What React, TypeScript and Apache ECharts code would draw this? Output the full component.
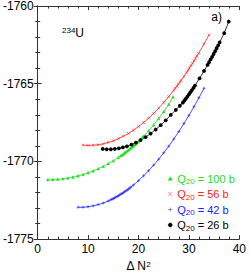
import React, { useEffect, useRef } from 'react';
import * as echarts from 'echarts';

// Q20 = 100 b (green)
const q100: number[][] = [
  [2, -1771.18], [3, -1771.17], [4, -1771.15], [5, -1771.12], [6, -1771.07], [7, -1771.01],
  [8, -1770.93], [9, -1770.84], [10, -1770.73], [11, -1770.61], [12, -1770.47], [13, -1770.32],
  [14, -1770.15], [15, -1769.96], [16, -1769.75], [16.5, -1769.64], [16.75, -1769.58], [17, -1769.52],
  [17.25, -1769.45], [17.5, -1769.39], [17.75, -1769.33], [18, -1769.27], [18.25, -1769.2],
  [18.5, -1769.13], [18.75, -1769.07], [19, -1769.0], [19.25, -1768.92], [19.5, -1768.85],
  [19.75, -1768.77], [20, -1768.7], [20.25, -1768.62], [20.5, -1768.54], [20.75, -1768.46],
  [21, -1768.38], [22, -1768.03], [23, -1767.65], [24, -1767.24], [25, -1766.8], [26, -1766.33],
  [26.85, -1765.85],
];

// Q20 = 56 b (red)
const q56: number[][] = [
  [9, -1768.95], [10, -1768.97], [11, -1768.96], [12, -1768.93], [13, -1768.87], [14, -1768.78],
  [15, -1768.68], [16, -1768.54], [17, -1768.38], [18, -1768.2], [19, -1767.99], [20, -1767.76],
  [21, -1767.5], [22, -1767.22], [23, -1766.91], [24, -1766.57], [25, -1766.21], [26, -1765.83],
  [27, -1765.42], [27.3, -1765.29], [27.6, -1765.16], [27.9, -1765.03], [28.2, -1764.9],
  [28.5, -1764.76], [29, -1764.53], [29.5, -1764.29], [29.8, -1764.14], [30.1, -1763.99],
  [30.4, -1763.84], [30.7, -1763.69], [31, -1763.53], [31.3, -1763.37], [31.6, -1763.21],
  [31.9, -1763.05], [33, -1762.44], [34, -1761.85],
];

// Q20 = 42 b (blue)
const q42: number[][] = [
  [8, -1772.95], [9, -1772.95], [10, -1772.92], [11, -1772.86], [12, -1772.78], [13, -1772.68],
  [14, -1772.55], [14.5, -1772.47], [14.75, -1772.43], [15, -1772.39], [15.25, -1772.35],
  [15.5, -1772.3], [15.75, -1772.26], [16, -1772.21], [16.25, -1772.16], [16.5, -1772.11],
  [16.75, -1772.06], [17, -1772.01], [17.25, -1771.95], [17.5, -1771.9], [17.75, -1771.84],
  [18, -1771.78], [18.25, -1771.72], [18.5, -1771.65], [19, -1771.52], [20, -1771.24],
  [21, -1770.93], [22, -1770.6], [23, -1770.24], [24, -1769.86], [25, -1769.45], [26, -1769.02],
  [27, -1768.56], [28, -1768.08], [29, -1767.57], [30, -1767.04], [31, -1766.48], [32, -1765.9],
  [33, -1765.29],
];

// Q20 = 26 b (black)
const q26: number[][] = [
  [12.9, -1769.2], [13.7, -1769.22], [14.5, -1769.22], [15.3, -1769.2], [16.1, -1769.16],
  [16.9, -1769.1], [17.7, -1769.03], [18.6, -1768.92], [19.5, -1768.79], [20.4, -1768.63],
  [21.4, -1768.44], [22.4, -1768.21], [23.4, -1767.95], [24.4, -1767.67], [25.4, -1767.36],
  [26.4, -1767.01], [27.4, -1766.69], [28.2, -1766.42], [28.8, -1766.22], [29.1, -1766.09],
  [29.4, -1765.96], [29.7, -1765.83], [30.0, -1765.69], [30.3, -1765.55], [30.6, -1765.41],
  [30.9, -1765.27], [31.2, -1765.12], [32.1, -1764.66], [33.0, -1764.18], [33.7, -1763.79],
  [34.0, -1763.62], [34.3, -1763.44], [34.6, -1763.27], [34.9, -1763.09], [35.2, -1762.91],
  [35.5, -1762.72], [35.8, -1762.53], [36.1, -1762.34], [37.0, -1761.75], [37.9, -1761.0],
];

const seriesNames = ['Q20 = 100 b', 'Q20 = 56 b', 'Q20 = 42 b', 'Q20 = 26 b'];
const xRange = [0, 40];
const yRange = [-1775, -1760];

const GREEN = '#22dd22';
const RED = '#ff2020';
const BLUE = '#2020ff';
const BLACK = '#000000';
const FONT = 'Liberation Sans, Arial, Helvetica, sans-serif';

const CROSS = 'path://M0,0L10,10M10,0L0,10';
const PLUS = 'path://M5,0L5,10M0,5L10,5';
const TRI = 'path://M5,0L10,9L0,9Z';

export default function App() {
  const ref = useRef<HTMLDivElement>(null);
  useEffect(() => {
    if (!ref.current) return;
    const chart = echarts.init(ref.current, null, { renderer: 'svg' });
    const grid = { left: 37, right: 7, top: 5, bottom: 29 };
    const axisLine = { show: true, lineStyle: { color: '#333', width: 1 } };
    const tickStyle = { color: '#333', width: 1 };
    const mkX = (pos: 'bottom' | 'top', labels: boolean) => ({
      type: 'value',
      position: pos,
      min: xRange[0],
      max: xRange[1],
      interval: 10,
      axisLine,
      axisTick: { show: true, inside: true, length: 4, lineStyle: tickStyle },
      minorTick: { show: true, splitNumber: 5, length: 2.5, lineStyle: tickStyle },
      splitLine: { show: false },
      axisLabel: labels
        ? { show: true, color: '#000', fontSize: 12, fontFamily: FONT, margin: 4 }
        : { show: false },
      name: labels ? 'Δ N{sup|2}' : '',
      nameLocation: 'middle',
      nameGap: 17,
      nameTextStyle: {
        color: '#000',
        fontSize: 12,
        fontFamily: FONT,
        rich: { sup: { fontSize: 8, verticalAlign: 'top', color: '#000', fontFamily: FONT } },
      },
    });
    const mkY = (pos: 'left' | 'right', labels: boolean) => ({
      type: 'value',
      position: pos,
      min: yRange[0],
      max: yRange[1],
      interval: 5,
      axisLine,
      axisTick: { show: true, inside: true, length: 4, lineStyle: tickStyle },
      minorTick: { show: true, splitNumber: 5, length: 2.5, lineStyle: tickStyle },
      splitLine: { show: false },
      axisLabel: labels
        ? {
            show: true,
            color: '#000',
            fontSize: 12,
            fontFamily: FONT,
            margin: 4,
            formatter: (v: number) => String(v),
          }
        : { show: false },
    });
    const lineSeries = (name: string, data: number[][], color: string, symbol: string, size: number, bw: number) => ({
      type: 'line',
      name,
      data,
      symbol,
      symbolSize: size,
      showSymbol: true,
      showAllSymbol: true,
      lineStyle: { color, width: 0.8 },
      itemStyle: { color, borderColor: color, borderWidth: bw },
      emphasis: { disabled: true },
      z: 3,
    });
    const richLegend = {
      q: { fontSize: 11, fontFamily: FONT },
      s: { fontSize: 8, fontFamily: FONT, verticalAlign: 'bottom', padding: [6, 0, 0, 0] },
      t: { fontSize: 11, fontFamily: FONT },
    };
    chart.setOption({
      animation: false,
      backgroundColor: '#fff',
      grid,
      xAxis: [mkX('bottom', true), mkX('top', false)],
      yAxis: [mkY('left', true), mkY('right', false)],
      legend: {
        orient: 'vertical',
        left: 163,
        top: 168,
        itemWidth: 4,
        itemHeight: 4,
        itemGap: 3,
        selectedMode: false,
        itemStyle: { borderWidth: 0.5 },
        formatter: (n: string) => '{q|Q}{s|20}{t|' + n.replace('Q20', '') + '}',
        textStyle: { fontSize: 11, fontFamily: FONT, rich: richLegend },
        data: [
          { name: seriesNames[0], icon: TRI, textStyle: { color: GREEN } },
          { name: seriesNames[1], icon: CROSS, textStyle: { color: RED } },
          { name: seriesNames[2], icon: PLUS, textStyle: { color: BLUE } },
          { name: seriesNames[3], icon: 'circle', textStyle: { color: BLACK } },
        ],
      },
      graphic: [
        {
          type: 'text',
          left: 62,
          top: 26,
          style: {
            text: '{sup|234}{u|U}',
            fill: '#000',
            rich: {
              sup: { fontSize: 8, fontFamily: FONT, verticalAlign: 'top', padding: [0, 0, 5, 0] },
              u: { fontSize: 12, fontFamily: FONT },
            },
          },
        },
        {
          type: 'text',
          right: 27,
          top: 11,
          style: { text: 'a)', fill: '#000', fontSize: 12, fontFamily: FONT },
        },
        {
          type: 'text',
          x: -1,
          y: 118,
          rotation: Math.PI / 2,
          style: {
            text: 'E_HF [MeV]',
            fill: '#000',
            fontSize: 12,
            fontFamily: FONT,
            align: 'center',
            verticalAlign: 'bottom',
          },
        },
      ],
      series: [
        lineSeries(seriesNames[0], q100, GREEN, TRI, 2.6, 0.5),
        lineSeries(seriesNames[1], q56, RED, CROSS, 2.6, 0.6),
        lineSeries(seriesNames[2], q42, BLUE, PLUS, 3, 0.6),
        lineSeries(seriesNames[3], q26, BLACK, 'circle', 3.8, 0),
      ],
    });
    return () => chart.dispose();
  }, []);
  return (
    <div
      ref={ref}
      style={{ position: 'absolute', left: 0, top: 0, width: 249, height: 277 }}
    />
  );
}
